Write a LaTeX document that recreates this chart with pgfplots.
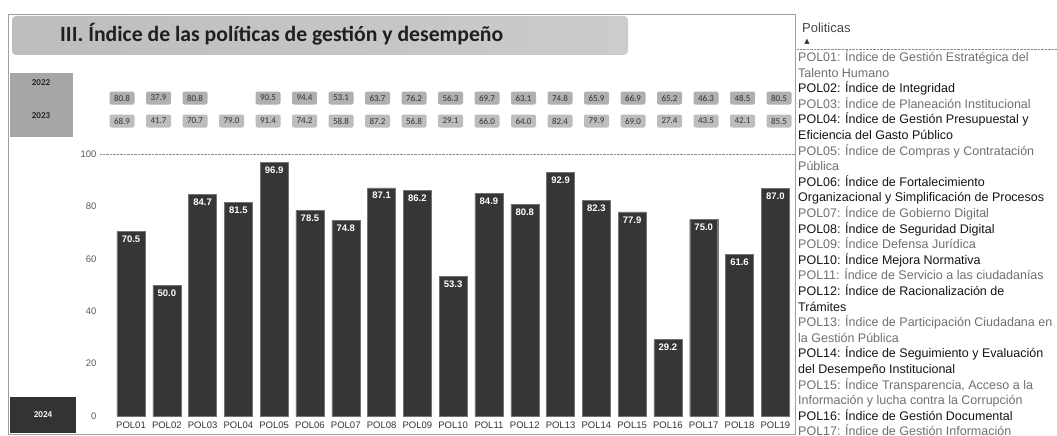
\documentclass[border=0pt]{standalone}
\usepackage{pgfplots}
\pgfplotsset{compat=1.18}
\usepackage{pgfplotstable}
\usepackage{fontspec}
\setmainfont{Liberation Sans}
\newfontfamily\calfont{Carlito}
\newfontfamily\dejavu{DejaVu Sans}
\definecolor{barcol}{HTML}{363636}
\definecolor{badgeA}{HTML}{B0B0B0}
\definecolor{badgeB}{HTML}{BDBDBD}
\definecolor{framecol}{HTML}{A0A0A0}
\definecolor{oddcol}{HTML}{707070}
\definecolor{evencol}{HTML}{151515}

\pgfplotstableread{
x y
0 70.5
1 50.0
2 84.7
3 81.5
4 96.9
5 78.5
6 74.8
7 87.1
8 86.2
9 53.3
10 84.9
11 80.8
12 92.9
13 82.3
14 77.9
15 29.2
16 75.0
17 61.6
18 87.0
}\tblTwentyFour

\pgfplotstableread{
x y v
0 1 80.8
1 1 37.9
2 1 80.8
4 1 90.5
5 1 94.4
6 1 53.1
7 1 63.7
8 1 76.2
9 1 56.3
10 1 69.7
11 1 63.1
12 1 74.8
13 1 65.9
14 1 66.9
15 1 65.2
16 1 46.3
17 1 48.5
18 1 80.5
}\tblTwentyTwo

\pgfplotstableread{
x y v
0 0 68.9
1 0 41.7
2 0 70.7
3 0 79.0
4 0 91.4
5 0 74.2
6 0 58.8
7 0 87.2
8 0 56.8
9 0 29.1
10 0 66.0
11 0 64.0
12 0 82.4
13 0 79.9
14 0 69.0
15 0 27.4
16 0 43.5
17 0 42.1
18 0 85.5
}\tblTwentyThree

\newcommand{\legline}[3]{\node[anchor=base west, inner sep=0pt, text=#2, font=\fontsize{12.5}{14}\selectfont] at (798pt,{-61.5pt-15.6pt*#1}) {#3};}

\begin{document}
\begin{tikzpicture}
\path[use as bounding box] (0pt,0pt) rectangle (1057pt,-436pt);
\fill[white] (0pt,0pt) rectangle (1057pt,-436pt);
% frame
\draw[framecol, line width=0.8pt] (8pt,-14pt) -- (795pt,-14pt) -- (795pt,-434pt) -- (8pt,-434pt) -- cycle;
% title box
\shade[left color=black!26, right color=black!20, rounded corners=4pt] (12pt,-16pt) rectangle (628pt,-55pt);
\node[anchor=west, inner sep=0pt, text=black!88, font=\calfont\bfseries\fontsize{21.7}{26}\selectfont] at (60pt,-34pt) {III. Índice de las políticas de gestión y desempeño};
% year boxes
\fill[black!35] (10pt,-73pt) rectangle (73pt,-137pt);
\node[font=\calfont\bfseries\fontsize{9}{10}\selectfont, text=black!85] at (41pt,-83pt) {2022};
\node[font=\calfont\bfseries\fontsize{9}{10}\selectfont, text=black!85] at (41pt,-116pt) {2023};
\fill[black!80] (10pt,-397pt) rectangle (76pt,-433pt);
\node[font=\calfont\bfseries\fontsize{9}{10}\selectfont, text=white] at (43pt,-415pt) {2024};

% badges
\begin{axis}[at={(103.75pt,-144pt)}, anchor=south west,
  width=693.5pt, height=69pt, scale only axis,
  xmin=-0.5, xmax=18.5, ymin=-1, ymax=2, hide axis, clip=false]
\addplot[only marks, mark=none, point meta=explicit, nodes near coords,
  nodes near coords style={anchor=center, fill=badgeA, rounded corners=2pt,
    minimum width=25pt, minimum height=13pt, inner sep=1pt,
    font=\calfont\fontsize{9}{10}\selectfont, text=black!80,
    /pgf/number format/fixed, /pgf/number format/fixed zerofill,
    /pgf/number format/precision=1, /pgf/number format/assume math mode=true}]
  table[x=x, y=y, meta=v] {\tblTwentyTwo};
\addplot[only marks, mark=none, point meta=explicit, nodes near coords,
  nodes near coords style={anchor=center, fill=badgeB, rounded corners=2pt,
    minimum width=25pt, minimum height=13pt, inner sep=1pt,
    font=\calfont\fontsize{9}{10}\selectfont, text=black!80,
    /pgf/number format/fixed, /pgf/number format/fixed zerofill,
    /pgf/number format/precision=1, /pgf/number format/assume math mode=true}]
  table[x=x, y=y, meta=v] {\tblTwentyThree};
\end{axis}

% main bars
\begin{axis}[at={(100pt,-416pt)}, anchor=south west,
  width=695pt, height=262pt, scale only axis,
  xmin=-0.866, xmax=18.55, ymin=0, ymax=100,
  axis line style={draw=none}, major tick length=0pt,
  xtick={0,...,18},
  xticklabels={POL01,POL02,POL03,POL04,POL05,POL06,POL07,POL08,POL09,POL10,POL11,POL12,POL13,POL14,POL15,POL16,POL17,POL18,POL19},
  ytick={0,20,40,60,80,100},
  tick label style={font=\fontsize{9.5}{10}\selectfont},
  xticklabel style={text=black!80, yshift=-2pt},
  yticklabel style={text=black!65},
  /pgf/number format/assume math mode=true,
  clip=false]
\draw[densely dotted, black!45] (rel axis cs:0,1) -- (rel axis cs:1,1);
\addplot[ybar, bar width=28pt, bar shift=0pt, fill=barcol, draw=black!55,
  nodes near coords,
  nodes near coords style={anchor=north, yshift=-1pt, text=white,
    font=\bfseries\fontsize{9.5}{10}\selectfont,
    /pgf/number format/fixed, /pgf/number format/fixed zerofill,
    /pgf/number format/precision=1, /pgf/number format/assume math mode=true}]
  table[x=x, y=y] {\tblTwentyFour};
\end{axis}

% legend panel
\node[anchor=west, inner sep=0pt, text=black!72, font=\fontsize{13}{15}\selectfont] at (802pt,-28pt) {Politicas};
\node[inner sep=0pt, text=black!80, font=\dejavu\fontsize{7}{8}\selectfont] at (807pt,-42pt) {▲};
\draw[densely dotted, black!45] (797pt,-49pt) -- (1057pt,-49pt);
\begin{scope}
\clip (796pt,-50pt) rectangle (1057pt,-436pt);
\legline{0}{oddcol}{POL01: Índice de Gestión Estratégica del}
\legline{1}{oddcol}{Talento Humano}
\legline{2}{evencol}{POL02: Índice de Integridad}
\legline{3}{oddcol}{POL03: Índice de Planeación Institucional}
\legline{4}{evencol}{POL04: Índice de Gestión Presupuestal y}
\legline{5}{evencol}{Eficiencia del Gasto Público}
\legline{6}{oddcol}{POL05: Índice de Compras y Contratación}
\legline{7}{oddcol}{Pública}
\legline{8}{evencol}{POL06: Índice de Fortalecimiento}
\legline{9}{evencol}{Organizacional y Simplificación de Procesos}
\legline{10}{oddcol}{POL07: Índice de Gobierno Digital}
\legline{11}{evencol}{POL08: Índice de Seguridad Digital}
\legline{12}{oddcol}{POL09: Índice Defensa Jurídica}
\legline{13}{evencol}{POL10: Índice Mejora Normativa}
\legline{14}{oddcol}{POL11: Índice de Servicio a las ciudadanías}
\legline{15}{evencol}{POL12: Índice de Racionalización de}
\legline{16}{evencol}{Trámites}
\legline{17}{oddcol}{POL13: Índice de Participación Ciudadana en}
\legline{18}{oddcol}{la Gestión Pública}
\legline{19}{evencol}{POL14: Índice de Seguimiento y Evaluación}
\legline{20}{evencol}{del Desempeño Institucional}
\legline{21}{oddcol}{POL15: Índice Transparencia, Acceso a la}
\legline{22}{oddcol}{Información y lucha contra la Corrupción}
\legline{23}{evencol}{POL16: Índice de Gestión Documental}
\legline{24}{oddcol}{POL17: Índice de Gestión Información}
\end{scope}
\end{tikzpicture}
\end{document}
